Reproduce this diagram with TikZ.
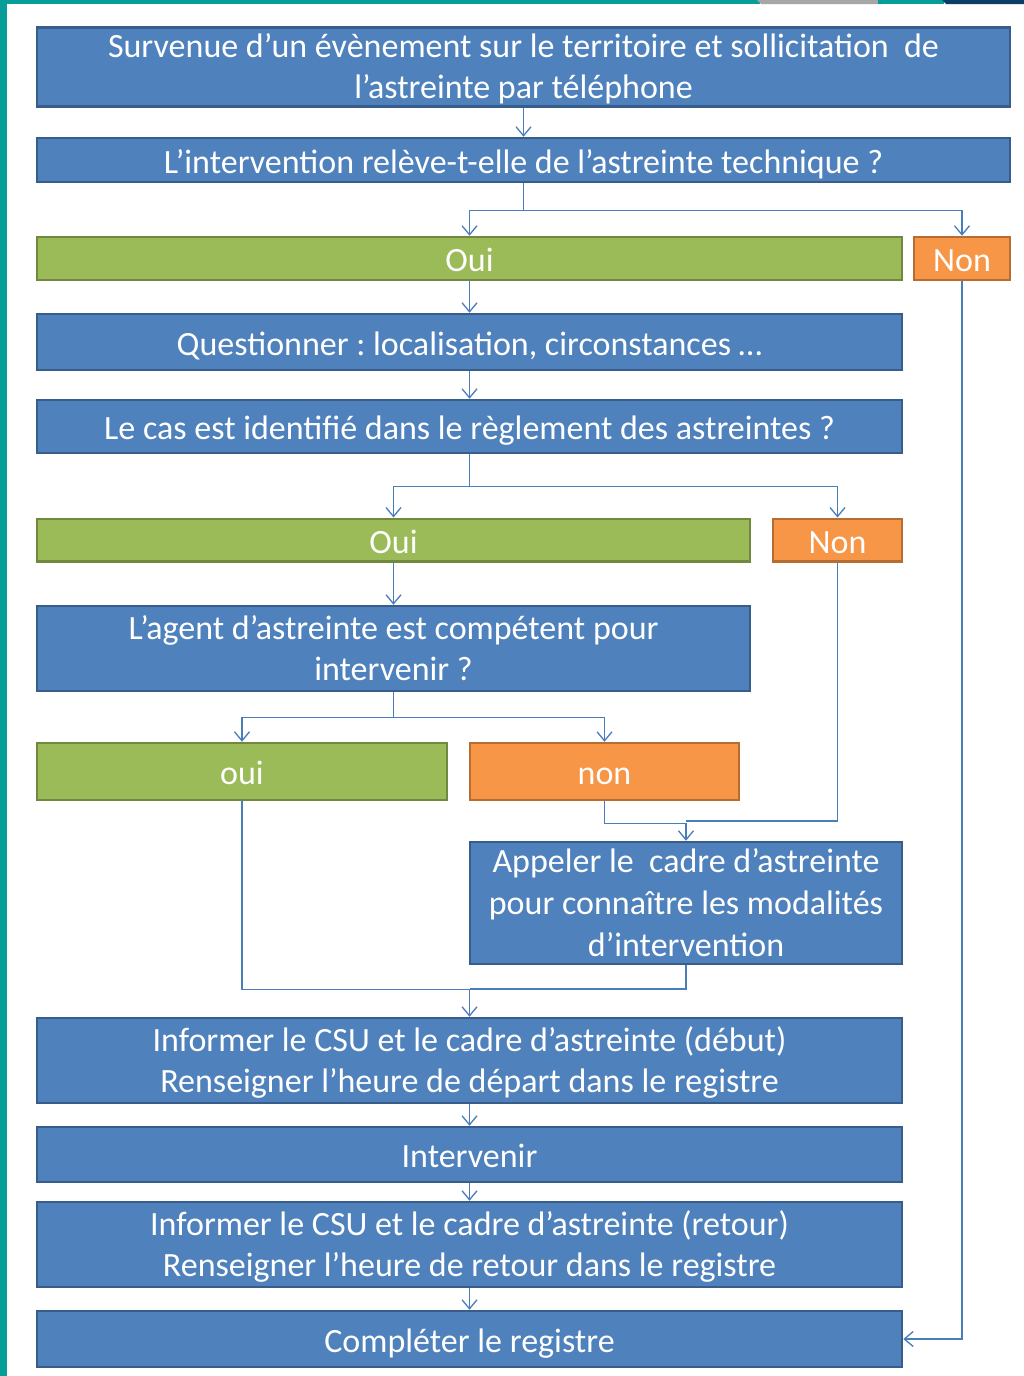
\documentclass[tikz,border=0pt]{standalone}
\usepackage{fontspec}
\setmainfont{Carlito}
\usetikzlibrary{arrows.meta}
\frenchspacing
\newcommand\etai{\rule[-8pt]{0pt}{42.5pt}}
\newcommand\deb{\rule{0pt}{30pt}}
\newcommand\fin[1]{\rule[-#1]{0pt}{0pt}}

\definecolor{bleu}{HTML}{4F81BD}
\definecolor{bleufonce}{HTML}{385D8A}
\definecolor{vert}{HTML}{9BBB59}
\definecolor{vertfonce}{HTML}{71893F}
\definecolor{orange}{HTML}{F79646}
\definecolor{orangefonce}{HTML}{B66D31}
\definecolor{trait}{HTML}{4A7EBB}
\definecolor{sarcelle}{HTML}{079E9A}
\definecolor{marine}{HTML}{0B3E66}

\begin{document}
\begin{tikzpicture}[x=1pt,y=-1pt,
    boite/.style={rectangle, draw=bleufonce, fill=bleu, line width=2.5pt,
        text=white, align=center, inner sep=0pt,
        font=\fontsize{34}{41}\selectfont,
        execute at begin node=\etai, execute at end node=\etai},
    oui/.style={boite, draw=vertfonce, fill=vert},
    non/.style={boite, draw=orangefonce, fill=orange},
    fleche/.style={draw=trait, line width=1.5pt, -{Straight Barb[length=9pt,width=15pt,line width=1.3pt]}},
    lien/.style={draw=trait, line width=1.5pt}]

    % cadre de la page
    \useasboundingbox (0,0) rectangle (1024,1376);
    \fill[white] (0,0) rectangle (1024,1376);
    \fill[sarcelle] (0,0) rectangle (7,1376);
    \fill[sarcelle] (0,0) rectangle (760,4);
    \fill[black!35] (757,0) -- (878,0) -- (882,4) -- (761,4) -- cycle;
    \fill[sarcelle] (878,0) rectangle (944,4);
    \fill[marine] (942,0) -- (1024,0) -- (1024,4) -- (946,4) -- cycle;

    % boites
    \node[boite, minimum width=973pt, minimum height=78pt] (evt) at (523.5,67)
        {\deb Survenue d’un évènement sur le territoire et sollicitation\ \ de\\l’astreinte par téléphone\fin{7pt}};
    \node[boite, minimum width=973pt, minimum height=44pt] (tech) at (523.5,160)
        {L’intervention relève-t-elle de l’astreinte technique ?};
    \node[oui, minimum width=865pt, minimum height=43pt] (oui1) at (469.5,258.5) {Oui};
    \node[non, minimum width=96pt, minimum height=43pt] (non1) at (962,258.5) {Non};
    \node[boite, minimum width=865pt, minimum height=56pt] (quest) at (469.5,342) {Questionner : localisation, circonstances …};
    \node[boite, minimum width=865pt, minimum height=53pt] (cas) at (469.5,426.5) {Le cas est identifié dans le règlement des astreintes ?};
    \node[oui, minimum width=713pt, minimum height=42pt] (oui2) at (393.5,540) {Oui};
    \node[non, minimum width=129pt, minimum height=42pt] (non2) at (837.5,540) {Non};
    \node[boite, minimum width=713pt, minimum height=85pt] (agent) at (393.5,648.5)
        {\deb L’agent d’astreinte est compétent pour\\intervenir ?\fin{7pt}};
    \node[oui, minimum width=410pt, minimum height=57pt] (oui3) at (242,771.5) {oui};
    \node[non, minimum width=269pt, minimum height=57pt] (non3) at (604.5,771.5) {non};
    \node[boite, minimum width=432pt, minimum height=118pt] (cadre) at (686,903)
        {\deb Appeler le\ \ cadre d’astreinte\\[1pt]pour connaître les modalités\\[1pt]d’intervention\fin{3.5pt}};
    \node[boite, minimum width=865pt, minimum height=85pt] (debut) at (469.5,1060.5)
        {\deb Informer le CSU et le cadre d’astreinte (début)\\Renseigner l’heure de départ dans le registre\fin{7pt}};
    \node[boite, minimum width=865pt, minimum height=55pt] (interv) at (469.5,1154.5) {Intervenir};
    \node[boite, minimum width=865pt, minimum height=85pt] (retour) at (469.5,1244.5)
        {\deb Informer le CSU et le cadre d’astreinte (retour)\\Renseigner l’heure de retour dans le registre\fin{7pt}};
    \node[boite, minimum width=865pt, minimum height=56pt] (regis) at (469.5,1339) {Compléter le registre};

    % liaisons
    \draw[fleche] (evt.south) -- (tech.north);
    \draw[fleche] (tech.south) -- ++(0,27) -| (oui1.north);
    \draw[fleche] (tech.south) -- ++(0,27) -| (non1.north);
    \draw[fleche] (oui1.south) -- (quest.north);
    \draw[fleche] (quest.south) -- (cas.north);
    \draw[fleche] (cas.south) -- ++(0,32) -| (oui2.north);
    \draw[fleche] (cas.south) -- ++(0,32) -| (non2.north);
    \draw[fleche] (oui2.south) -- (agent.north);
    \draw[fleche] (agent.south) -- ++(0,25) -| (oui3.north);
    \draw[fleche] (agent.south) -- ++(0,25) -| (non3.north);
    \draw[fleche] (non3.south) -- ++(0,22) -| (cadre.north);
    \draw[lien] (non2.south) |- ([yshift=20pt]cadre.north);
    \draw[fleche] (oui3.south) -- ++(0,188) -| (debut.north);
    \draw[lien] (cadre.south) |- ([yshift=28pt]debut.north);
    \draw[fleche] (debut.south) -- (interv.north);
    \draw[fleche] (interv.south) -- (retour.north);
    \draw[fleche] (retour.south) -- (regis.north);
    \draw[fleche] (non1.south) |- (regis.east);
\end{tikzpicture}
\end{document}
